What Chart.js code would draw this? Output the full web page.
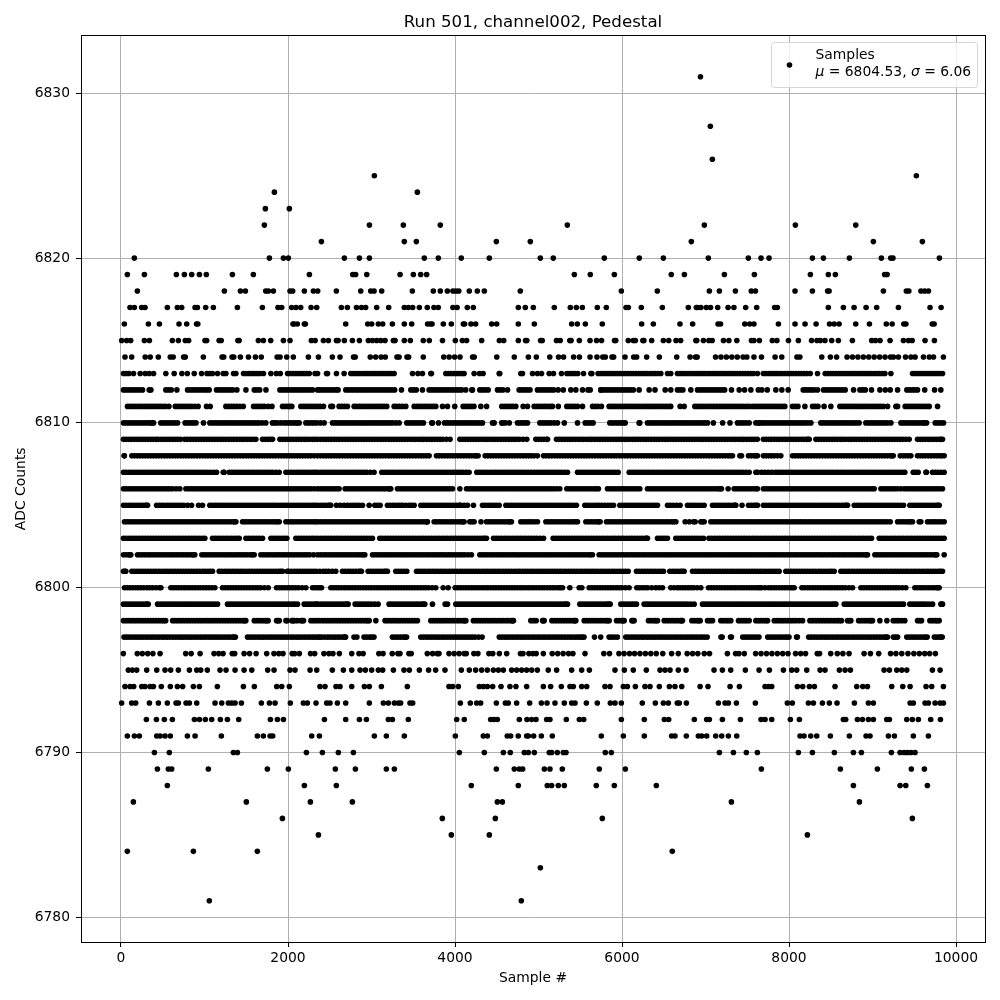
<!DOCTYPE html>
<html>
<head>
<meta charset="utf-8">
<script src="https://cdn.jsdelivr.net/npm/chart.js@4/dist/chart.umd.min.js"></script>
<style>
body { margin: 0; background: #fff; }
canvas { display: block; }
</style>
</head>
<body>
<canvas id="pedestalChart" width="1000" height="1000"></canvas>
<script>
// Sample numbers, one list per ADC level
const level6781 = [1058,4794];
const level6783 = [5022];
const level6784 = [76,867,1633,6602];
const level6785 = [2364,3956,4411,8220];
const level6786 = [1933,3848,4483,5764,9477];
const level6787 = [148,1501,2268,2771,4507,4567,7310,8843];
const level6788 = [555,2196,2579,4195,4758,5105,5157,5237,5309,5692,5908,6411,8771,9330,9398,9657];
const level6789 = [436,567,607,1046,1753,2004,2567,2807,3178,3274,4495,4710,4770,4810,5070,5137,5285,5728,6040,7669,8615,9058,9465,9621];
const level6790 = [400,579,1346,1394,2220,2412,2603,2783,4052,4351,4579,4662,4830,4878,4950,5129,5157,5225,5297,5329,5800,5872,7166,7334,7489,7621,8112,8280,8543,8771,8867,9226,9330,9378,9418,9461,9509];
const level6791 = [76,160,220,428,468,527,591,795,887,1202,1633,1705,1785,1817,2284,2376,3034,3178,3393,4004,4339,4387,4626,4666,4758,4858,4878,4942,5034,5165,5752,6016,6267,6594,6634,6770,6914,6954,7014,7122,7194,7274,7374,8132,8180,8260,8332,8495,8723,8923,8970,9190,9262,9489,9669];
const level6792 = [304,424,519,615,879,939,1010,1086,1190,1274,1410,1789,1873,1945,2436,2691,2855,2939,3202,3250,3441,4020,4111,4427,4467,4507,4770,4862,4918,4970,5098,5137,5333,5489,5541,5992,6267,6507,6559,6866,7014,7046,7202,7418,7665,7713,7793,8016,8124,8651,8679,8819,8879,8951,9010,9170,9202,9410,9477,9549,9697,9813];
const level6793 = [8,128,176,340,448,555,659,687,779,819,907,1126,1206,1286,1326,1366,1442,1681,1777,1845,2028,2184,2232,2336,2463,2503,2591,2691,2974,3142,3202,3274,3322,3349,3461,3493,4064,4183,4259,4307,4495,4603,4638,4738,4894,5034,5102,5197,5309,5397,5437,5573,5704,5860,5916,5992,6243,6399,6495,6555,6662,6686,6771,7154,7234,7274,7370,7597,7980,8040,8232,8292,8400,8483,8575,8783,8951,9010,9450,9489,9629,9669,9749,9809,9849];
const level6794 = [48,108,152,248,288,348,388,483,591,675,739,867,939,1154,1466,1597,1865,1925,2016,2383,2443,2575,2623,2763,2915,2974,3118,3429,3928,3972,4040,4291,4339,4387,4451,4551,4658,4730,4858,5058,5145,5273,5377,5417,5517,5577,5796,5856,6016,6064,6160,6275,6335,6447,6567,6634,6715,6935,7030,7294,7406,7713,7753,7793,8100,8164,8244,8304,8551,8811,8883,8939,9230,9362,9450,9641,9709,9849];
const level6795 = [88,136,188,308,428,527,595,687,819,907,955,1034,1186,1258,1366,1474,1566,1757,1833,2024,2084,2264,2344,2531,2663,2763,2863,2927,3002,3082,3134,3262,3389,3453,3573,3684,3768,3880,4076,4171,4247,4319,4387,4459,4519,4579,4678,4738,4798,4858,4918,4986,5117,5217,5397,5517,5609,5916,6028,6135,6291,6455,6515,6575,6674,6767,7102,7202,7302,7477,7641,7765,7933,8032,8092,8212,8372,8431,8603,8671,8735,9138,9202,9290,9350,9410,9717,9809];
const level6796 = [28,195,255,320,382,468,775,840,947,1114,1170,1222,1332,1362,1474,1540,1618,1745,1832,1890,1940,2050,2080,2136,2270,2320,2430,2490,2538,2615,2763,2850,2900,3088,3138,3248,3316,3341,3448,3476,3668,3732,3786,3808,3928,3990,4050,4110,4135,4226,4274,4406,4452,4531,4619,4784,4814,4885,4932,4972,5058,5164,5230,5295,5360,5412,5557,5782,5850,5963,6025,6090,6150,6215,6280,6345,6410,6488,6594,6674,6780,6845,6908,6985,7048,7262,7360,7400,7465,7600,7665,7730,7795,7860,7925,7988,8078,8140,8198,8338,8366,8499,8578,8645,8719,8899,8975,9074,9216,9280,9350,9424,9495,9560,9625,9684,9753];
const level6797 = [36,98,165,228,295,360,425,492,555,622,688,750,815,880,948,1012,1078,1140,1205,1270,1335,1370,1515,1580,1645,1708,1775,1840,1905,1968,2035,2100,2162,2228,2290,2350,2400,2470,2535,2600,2665,2690,2790,2825,2910,2975,3030,3250,3315,3380,3420,3590,3655,3720,3785,3850,3915,3982,4045,4110,4175,4240,4325,4530,4595,4660,4725,4790,4855,4920,4985,5050,5115,5180,5245,5310,5375,5440,5500,5545,5670,5745,5845,5910,5945,6045,6110,6175,6240,6305,6370,6435,6500,6565,6630,6695,6760,6825,6890,6955,7020,7185,7200,7300,7310,7445,7510,7575,7640,7745,7810,7875,7940,8000,8090,8100,8235,8300,8365,8430,8495,8560,8625,8690,8755,8820,8885,8950,9015,9080,9145,9180,9250,9300,9410,9475,9540,9605,9655,9740,9800,9835];
const level6798 = [30,95,160,225,290,355,420,485,535,618,680,745,810,875,940,1005,1070,1135,1200,1265,1330,1395,1460,1495,1596,1660,1725,1762,1863,1895,1975,2046,2074,2154,2186,2274,2340,2410,2475,2540,2605,2670,2735,2800,2865,2930,2972,3052,3162,3225,3290,3355,3420,3485,3550,3710,3775,3840,3905,3970,4035,4100,4130,4220,4285,4350,4415,4480,4545,4610,4675,4700,4908,4972,5048,5068,5160,5225,5290,5355,5420,5447,5547,5612,5677,5742,5807,5846,5934,5998,6026,6118,6145,6317,6382,6425,6505,6570,6635,6700,6724,6836,6900,6936,7024,7084,7183,7248,7303,7395,7460,7523,7603,7663,7723,7743,7823,7888,7953,8018,8083,8162,8250,8315,8380,8445,8510,8575,8629,8701,8741,8833,8898,8963,9000,9088,9172,9248,9312,9387,9539,9587,9687,9752,9798];
const level6799 = [30,95,160,225,290,326,438,503,568,633,698,763,828,893,958,1023,1088,1156,1276,1341,1406,1471,1536,1601,1666,1731,1796,1861,1926,1991,2056,2114,2194,2259,2324,2353,2423,2488,2553,2618,2683,2720,2804,2869,2934,2999,3079,3211,3276,3341,3406,3471,3536,3601,3638,3730,3882,3910,4010,4075,4140,4205,4270,4335,4400,4465,4530,4595,4660,4725,4790,4855,4920,4985,5050,5115,5180,5245,5310,5347,5495,5560,5625,5690,5755,5820,5858,5986,6051,6116,6173,6265,6330,6395,6460,6525,6590,6655,6720,6785,6864,6964,7029,7094,7159,7224,7289,7354,7419,7484,7549,7614,7679,7744,7809,7874,7939,8004,8069,8134,8199,8264,8329,8394,8459,8524,8561,8661,8726,8791,8856,8921,8986,9051,9116,9181,9246,9311,9371,9447,9512,9577,9642,9719,9819,9838];
const level6800 = [42,107,172,237,310,378,458,478,597,662,727,792,857,922,987,1052,1124,1216,1281,1346,1411,1476,1541,1606,1671,1763,1863,1928,1993,2058,2123,2214,2294,2353,2401,2513,2578,2643,2708,2773,2838,2903,2968,3033,3098,3163,3228,3293,3358,3423,3488,3553,3618,3683,3770,3858,3918,4002,4067,4132,4197,4262,4327,4392,4457,4522,4587,4652,4717,4782,4847,4912,4977,5042,5107,5172,5237,5287,5375,5487,5607,5672,5737,5802,5867,5932,5997,6085,6177,6242,6307,6405,6485,6584,6664,6729,6794,6859,6944,7036,7101,7166,7231,7296,7361,7426,7491,7556,7622,7671,7755,7820,7885,7950,8015,8062,8154,8219,8284,8349,8414,8479,8544,8609,8674,8761,8861,8926,8991,9056,9121,9186,9251,9316,9399,9507,9572,9637,9702,9767,9798];
const level6801 = [30,58,130,195,260,325,390,455,520,585,650,715,780,845,910,975,1040,1096,1176,1241,1306,1371,1436,1501,1566,1631,1696,1761,1826,1891,1935,2007,2078,2143,2208,2273,2338,2423,2488,2572,2652,2717,2782,2847,2880,2960,3025,3090,3155,3191,3291,3356,3423,3539,3604,3669,3734,3799,3864,3929,3994,4059,4124,4189,4254,4319,4384,4449,4514,4579,4644,4709,4774,4839,4904,4969,5034,5099,5164,5229,5294,5359,5424,5489,5554,5619,5684,5749,5814,5879,5944,6009,6074,6173,6238,6303,6368,6433,6497,6573,6638,6703,6744,6844,6909,6974,7039,7104,7169,7234,7299,7364,7429,7494,7559,7624,7689,7754,7819,7882,7962,8027,8092,8157,8222,8287,8352,8417,8482,8541,8621,8686,8751,8816,8881,8946,9011,9076,9141,9206,9271,9336,9401,9466,9531,9596,9661,9726,9791,9838];
const level6802 = [30,95,118,198,263,328,393,458,523,588,653,718,783,848,884,968,1033,1098,1163,1228,1293,1358,1423,1488,1553,1595,1675,1740,1805,1870,1935,2000,2065,2130,2195,2260,2353,2423,2488,2553,2618,2683,2748,2813,2878,2920,3012,3077,3142,3207,3272,3337,3402,3467,3532,3597,3662,3727,3792,3857,3922,3987,4052,4117,4197,4297,4362,4427,4492,4557,4622,4687,4752,4817,4882,4947,5012,5077,5142,5207,5272,5337,5402,5467,5532,5597,5646,5726,5791,5856,5921,5986,6051,6116,6181,6246,6311,6376,6441,6506,6571,6636,6701,6766,6831,6896,6961,7026,7091,7156,7221,7286,7351,7416,7481,7546,7611,7676,7741,7806,7871,7936,8001,8066,8131,8196,8261,8326,8391,8456,8521,8586,8651,8716,8781,8846,8911,8940,9028,9093,9158,9223,9288,9353,9418,9483,9548,9613,9678,9743,9770,9858];
const level6803 = [30,95,160,225,290,355,420,485,550,615,680,745,810,875,940,1004,1096,1161,1226,1291,1356,1416,1496,1561,1626,1695,1795,1860,1925,1986,2094,2159,2224,2289,2353,2423,2488,2553,2618,2683,2748,2813,2878,2943,3011,3099,3164,3229,3294,3359,3424,3489,3554,3619,3684,3749,3814,3879,3944,4009,4074,4139,4204,4269,4334,4377,4461,4526,4591,4656,4721,4786,4851,4916,4981,5060,5175,5240,5305,5370,5435,5500,5565,5630,5695,5760,5825,5890,5955,6020,6085,6150,6215,6280,6305,6425,6485,6544,6644,6709,6774,6839,6904,6976,7041,7106,7171,7236,7301,7366,7431,7496,7561,7626,7691,7756,7821,7886,7951,8016,8081,8146,8211,8276,8341,8406,8471,8536,8601,8666,8731,8796,8861,8926,8988,9080,9145,9210,9275,9340,9405,9470,9535,9600,9665,9730,9795,9858];
const level6804 = [42,107,172,237,302,367,432,497,562,627,692,757,822,887,952,1017,1082,1147,1212,1277,1342,1376,1456,1521,1586,1651,1716,1781,1846,1895,1975,2040,2105,2170,2235,2300,2353,2423,2488,2553,2618,2683,2748,2813,2878,2943,3008,3073,3138,3203,3268,3333,3398,3463,3528,3593,3658,3670,3750,3815,3880,3945,4010,4075,4109,4177,4229,4311,4377,4442,4507,4572,4637,4676,4788,4853,4916,4988,5088,5153,5218,5283,5348,5413,5467,5567,5632,5697,5738,5814,5879,5944,6009,6074,6139,6204,6269,6334,6399,6464,6529,6594,6645,6756,6856,6944,6984,7064,7129,7194,7259,7324,7389,7454,7519,7584,7649,7714,7779,7844,7909,7974,8039,8104,8169,8234,8299,8364,8429,8494,8559,8624,8689,8754,8819,8884,8949,9014,9079,9144,9212,9300,9365,9430,9479,9559,9579,9659,9724,9789,9858];
const level6805 = [30,95,160,225,290,318,426,491,556,621,686,751,845,929,976,1064,1129,1194,1259,1324,1389,1454,1519,1584,1649,1714,1779,1844,1909,1974,2039,2104,2169,2234,2299,2353,2423,2488,2512,2580,2672,2752,2817,2892,2972,3039,3103,3191,3256,3321,3371,3451,3511,3591,3656,3721,3786,3851,3916,3981,4046,4070,4150,4221,4329,4394,4459,4529,4609,4674,4739,4804,4869,4934,4999,5064,5129,5194,5259,5324,5389,5454,5555,5621,5694,5754,5830,5898,5974,6039,6104,6169,6234,6299,6364,6425,6545,6610,6696,6784,6849,6914,6984,7084,7149,7214,7279,7344,7363,7437,7515,7580,7622,7693,7758,7823,7888,7953,8018,8083,8148,8213,8278,8343,8408,8473,8538,8603,8668,8701,8781,8846,8911,8976,9041,9106,9171,9236,9301,9371,9447,9512,9577,9642,9707,9772,9798];
const level6806 = [30,95,160,225,290,355,420,485,550,615,705,777,842,907,972,1037,1102,1167,1232,1297,1362,1427,1492,1557,1622,1687,1752,1817,1882,1947,2012,2077,2142,2207,2274,2354,2421,2486,2551,2612,2684,2749,2814,2879,2944,3009,3074,3139,3204,3231,3311,3376,3441,3506,3571,3636,3701,3766,3831,3896,3970,4058,4138,4203,4268,4333,4398,4463,4528,4593,4658,4723,4788,4853,4918,4983,5048,5113,5178,5255,5339,5404,5469,5534,5599,5664,5718,5826,5891,5956,6021,6086,6151,6213,6305,6370,6435,6500,6565,6630,6695,6760,6825,6890,6955,7020,7085,7150,7191,7271,7343,7408,7473,7538,7603,7622,7693,7758,7823,7888,7953,8018,8083,8148,8213,8278,8343,8408,8473,8538,8603,8668,8733,8798,8863,8928,8993,9020,9100,9165,9230,9295,9379,9447,9512,9577,9642,9707,9772,9838];
const level6807 = [30,95,160,225,290,355,420,485,550,615,680,745,810,875,940,1005,1070,1144,1224,1236,1296,1361,1426,1491,1556,1621,1686,1751,1816,1895,1975,2040,2105,2170,2235,2300,2353,2423,2488,2553,2618,2683,2748,2813,2878,2943,3031,3123,3188,3253,3318,3383,3448,3513,3578,3643,3708,3773,3838,3903,3968,4033,4098,4169,4261,4326,4391,4456,4521,4586,4651,4716,4781,4846,4911,4948,5013,5078,5143,5208,5273,5347,5467,5532,5597,5662,5727,5792,5857,5922,5954,6086,6151,6216,6281,6346,6411,6476,6541,6606,6671,6736,6801,6866,6931,6996,7061,7126,7191,7256,7321,7386,7451,7523,7603,7622,7668,7750,7834,7899,7964,8029,8094,8159,8224,8289,8354,8419,8484,8549,8614,8679,8744,8809,8874,8939,9004,9069,9134,9199,9264,9329,9387,9487,9547,9639,9647,9719,9784,9858];
const level6808 = [38,40,130,195,260,325,390,455,520,585,650,715,780,845,910,975,1040,1105,1170,1235,1300,1365,1430,1495,1560,1625,1690,1755,1820,1885,1950,2015,2080,2145,2210,2275,2353,2423,2488,2553,2618,2683,2748,2813,2878,2943,3008,3073,3138,3203,3268,3333,3398,3463,3528,3593,3658,3690,3778,3843,3908,3973,4038,4103,4168,4233,4277,4361,4426,4491,4556,4621,4686,4751,4816,4881,4946,4987,5060,5125,5190,5255,5320,5385,5450,5515,5580,5645,5710,5775,5840,5905,5970,6035,6100,6165,6230,6295,6360,6425,6490,6555,6620,6685,6750,6815,6880,6945,7010,7075,7140,7205,7270,7323,7411,7431,7515,7580,7622,7693,7758,7823,7902,8042,8107,8172,8237,8302,8367,8432,8497,8562,8627,8692,8757,8822,8887,8952,9017,9082,9147,9212,9248,9332,9397,9459,9539,9604,9669,9734,9799,9858];
const level6809 = [30,95,160,225,290,355,420,445,517,582,647,712,797,865,930,995,1060,1125,1190,1255,1320,1385,1450,1515,1580,1615,1695,1760,1815,1903,1968,2033,2098,2163,2228,2293,2353,2423,2488,2553,2618,2683,2748,2813,2878,2943,3008,3073,3138,3203,3268,3333,3398,3463,3528,3593,3658,3723,3788,3853,3941,4058,4123,4188,4253,4318,4383,4448,4513,4578,4643,4708,4773,4860,4968,5033,5098,5108,5215,5280,5345,5410,5475,5540,5605,5670,5735,5800,5865,5930,5995,6060,6125,6190,6255,6320,6385,6450,6515,6580,6645,6710,6775,6840,6905,6970,7035,7100,7165,7230,7295,7360,7425,7490,7555,7620,7693,7758,7823,7888,7953,8018,8083,8148,8213,8242,8322,8387,8452,8517,8582,8647,8712,8777,8842,8907,8972,9037,9102,9167,9232,9297,9362,9439,9539,9604,9669,9734,9799,9838];
const level6810 = [30,95,160,225,290,355,390,477,542,607,677,768,833,898,988,1064,1129,1194,1259,1324,1389,1454,1519,1584,1649,1734,1814,1874,1954,2019,2084,2134,2214,2279,2344,2433,2533,2598,2663,2728,2793,2858,2923,2988,3053,3118,3183,3248,3331,3423,3488,3553,3622,3722,3730,3802,3874,3939,4004,4069,4134,4199,4264,4329,4449,4469,4560,4568,4650,4748,4813,4868,5016,5081,5146,5227,5309,5467,5559,5624,5654,5854,5919,5984,6038,6213,6205,6305,6370,6435,6500,6565,6630,6695,6760,6825,6890,6955,7024,7094,7205,7293,7383,7448,7523,7643,7603,7668,7733,7798,7863,7928,7993,8058,8123,8188,8262,8381,8446,8511,8576,8641,8706,8771,8840,8920,8985,9050,9115,9180,9220,9340,9405,9470,9535,9600,9647,9751,9818,9850];
const level6811 = [78,143,208,273,338,403,468,533,574,650,715,780,845,924,1024,1068,1256,1321,1386,1464,1588,1653,1718,1808,1934,1999,2046,2154,2219,2284,2349,2425,2513,2533,2612,2677,2712,2792,2857,2922,2987,3052,3117,3183,3271,3336,3411,3511,3576,3641,3706,3770,3850,3910,3997,4097,4162,4227,4309,4378,4560,4625,4690,4728,4816,4868,4948,5013,5078,5143,5167,5237,5339,5404,5469,5527,5647,5712,5754,5846,5911,5976,6041,6106,6171,6236,6301,6366,6431,6496,6561,6584,6696,6744,6872,6937,7002,7067,7132,7197,7262,7327,7392,7457,7522,7563,7628,7693,7758,7823,7888,7950,8042,8107,8190,8282,8347,8420,8501,8609,8674,8739,8804,8869,8934,8999,9064,9129,9180,9280,9300,9391,9456,9521,9586,9651,9679,9779];
const level6812 = [30,95,160,225,258,338,358,537,602,669,797,862,927,992,1056,1144,1209,1274,1339,1388,1496,1596,1661,1736,1903,1968,2033,2098,2163,2228,2293,2353,2381,2446,2511,2576,2600,2692,2757,2822,2887,2952,3017,3082,3147,3212,3277,3359,3471,3536,3610,3690,3755,3820,3885,3950,4015,4080,4129,4201,4209,4297,4362,4397,4509,4574,4629,4768,4833,4898,4987,5052,5117,5182,5235,5297,5387,5447,5527,5592,5619,5746,5811,5876,5941,6006,6071,6136,6205,6325,6395,6517,6584,6664,6729,6824,6904,6969,7034,7099,7164,7229,7311,7403,7468,7543,7632,7675,7740,7842,7914,7990,8170,8235,8300,8341,8413,8478,8543,8608,8673,8773,8849,8914,8988,9088,9153,9212,9300,9411,9476,9539,9625,9743,9818];
const level6813 = [30,95,150,230,290,338,390,537,637,729,794,877,965,1030,1095,1156,1224,1256,1348,1376,1468,1533,1598,1663,1706,1795,1860,1907,1995,2060,2125,2190,2255,2324,2354,2461,2473,2580,2672,2752,2817,2882,2947,3012,3077,3142,3207,3271,3491,3556,3610,3710,3718,3890,3955,4020,4085,4109,4229,4294,4337,4529,4536,4788,4808,4928,4987,5036,5128,5179,5275,5340,5405,5470,5539,5639,5627,5714,5779,5844,5909,5974,6039,6104,6169,6234,6299,6364,6429,6465,6545,6584,6664,6729,6794,6859,6924,6989,7054,7119,7184,7249,7314,7379,7444,7509,7574,7622,7693,7758,7823,7888,7953,8018,8083,8148,8213,8254,8341,8433,8498,8563,8628,8693,8758,8823,8888,8953,9018,9083,9148,9220,9479,9544,9609,9674,9739,9804,9838];
const level6814 = [48,128,290,350,447,590,625,750,770,986,1210,1230,1330,1350,1430,1526,1610,1680,1870,1905,1985,2064,2244,2364,2531,2623,2785,2805,2985,3050,3115,3165,3305,3330,3425,3445,3620,3865,3930,3995,4060,4210,4230,4500,4710,4878,4974,5135,5240,5300,5420,5490,5617,5700,5770,5800,5880,5900,6036,6140,6175,6295,6447,6655,6815,6880,6900,7120,7185,7250,7315,7380,7450,7495,7580,7670,7833,7913,8095,8130,8392,8495,8570,8695,8760,8825,8890,8955,9020,9085,9150,9215,9250,9310,9395,9460,9510,9610,9680,9730,9849];
const level6815 = [8,68,116,280,340,615,687,770,810,1006,1026,1175,1200,1400,1415,1645,1705,1793,1945,2024,2280,2325,2424,2484,2580,2600,2675,2771,2855,2962,3010,3062,3110,3162,3262,3282,3393,3465,3620,3692,3850,4004,4088,4139,4319,4531,4583,4758,4845,4860,5025,5045,5215,5260,5375,5390,5489,5617,5695,5755,5910,5925,6075,6135,6160,6250,6262,6355,6495,6560,6647,6702,6884,6895,6975,7040,7080,7215,7280,7375,7550,7580,7645,7800,7855,7993,8112,8270,8335,8375,8431,8511,8591,8759,8990,9035,9090,9210,9370,9430,9475,9629,9741];
const level6816 = [40,328,460,695,787,905,920,2060,2072,2112,2196,2208,2691,2955,3002,3082,3134,3250,3393,3481,3672,3705,3725,3860,3956,4100,4115,4191,4247,4439,4499,4758,4950,5397,5465,5561,5764,6235,6375,6694,6846,7150,7180,7470,7530,7580,7873,8072,8192,8324,8485,8540,8600,8799,8963,9165,9235,9375,9400,9715,9738];
const level6817 = [108,160,248,288,555,675,727,887,915,1014,1106,1394,1693,1880,1925,2044,2096,2152,2276,2344,2639,2711,2820,2880,2930,3062,3206,3393,3441,3493,3573,3668,3748,3800,3975,4025,4147,4219,4758,4842,4938,5189,5381,5453,5525,5704,5812,6048,6076,6231,6483,6794,6890,6905,6945,7010,7060,7146,7270,7340,7481,7613,7828,7860,8471,8651,8779,8923,9050,9310,9689,9821];
const level6818 = [196,1238,1430,1490,1733,1765,1825,2024,2056,2196,2304,2356,2579,2871,2991,3031,3122,3489,3740,3824,3908,3975,4010,4045,4171,4267,4351,4782,5992,6423,7046,7166,7358,7548,7598,8072,8280,8462,8480,9130,9405,9435,9580,9625,9670];
const level6819 = [76,280,663,759,847,939,1022,1334,1585,2256,2775,2810,2943,3342,3501,3589,3660,5429,5620,5908,6590,6747,7226,7585,8256,8471,8555,9145,9175];
const level6820 = [160,1777,1945,2004,2675,2855,2975,3632,3800,4075,4411,5022,5177,5788,6207,6495,7034,7513,7665,7761,8280,8412,8723,9106,9218,9245,9801];
const level6821 = [2400,3393,3537,4495,4902,6830,9010,9597];
const level6822 = [1717,2975,3381,3824,5345,6986,8076,8799];
const level6823 = [1729,2016];
const level6824 = [1837,3549];
const level6825 = [3034,9525];
const level6826 = [7082];
const level6828 = [7058];
const level6831 = [6939];

// More samples inside the solid stretches of the crowded levels
const more6797 = [67,131,196,261,327,392,458,523,588,655,719,782,847,914,980,1045,1109,1172,1237,1302,1352,1547,1612,1676,1741,1807,1872,1936,2001,2067,2131,2195,2259,2320,2375,2435,2502,2567,2632,2678,2942,3002,3282,3347,3400,3622,3687,3752,3817,3882,3948,4013,4077,4142,4207,4282,4562,4627,4692,4757,4822,4887,4952,5017,5082,5147,5212,5277,5342,5407,5470,5522,5877,6077,6142,6207,6272,6337,6402,6467,6532,6597,6662,6727,6792,6857,6922,6987,7477,7542,7607,7777,7842,7907,7970,8267,8332,8397,8462,8527,8592,8657,8722,8787,8852,8917,8982,9047,9112,9162,9275,9442,9507,9572,9630,9770,9817];
const more6798 = [62,127,192,257,322,387,452,510,649,712,777,842,907,972,1037,1102,1167,1232,1297,1362,1427,1477,1628,1692,1743,1879,1990,2060,2110,2170,2307,2375,2442,2507,2572,2637,2702,2767,2832,2897,2951,3192,3257,3322,3387,3452,3517,3742,3807,3872,3937,4002,4067,4115,4252,4317,4382,4447,4512,4577,4642,4688,4940,5058,5192,5257,5322,5387,5433,5579,5644,5709,5774,5826,5966,6012,6132,6349,6403,6537,6602,6667,6712,6868,6918,7054,7215,7275,7427,7491,7633,7693,7855,7920,7985,8050,8122,8282,8347,8412,8477,8542,8602,8721,8865,8930,8981,9280,9349,9563,9720,9775];
const more6799 = [62,127,192,257,308,470,535,600,665,730,795,860,925,990,1055,1122,1308,1373,1438,1503,1568,1633,1698,1763,1828,1893,1958,2023,2085,2226,2291,2338,2388,2455,2520,2585,2650,2701,2836,2901,2966,3039,3243,3308,3373,3438,3503,3568,3620,4042,4107,4172,4237,4302,4367,4432,4497,4562,4627,4692,4757,4822,4887,4952,5017,5082,5147,5212,5277,5328,5527,5592,5657,5722,5787,5839,6018,6083,6144,6297,6362,6427,6492,6557,6622,6687,6752,6824,6996,7061,7126,7191,7256,7321,7386,7451,7516,7581,7646,7711,7776,7841,7906,7971,8036,8101,8166,8231,8296,8361,8426,8491,8542,8693,8758,8823,8888,8953,9018,9083,9148,9213,9278,9341,9479,9544,9609,9680,9828];
const more6800 = [74,139,204,272,344,418,629,694,759,824,889,954,1019,1088,1248,1313,1378,1443,1508,1573,1638,1717,1895,1960,2025,2090,2168,2323,2377,2545,2610,2675,2740,2805,2870,2935,3000,3065,3130,3195,3260,3325,3390,3455,3520,3585,3650,3726,4034,4099,4164,4229,4294,4359,4424,4489,4554,4619,4684,4749,4814,4879,4944,5009,5074,5139,5204,5262,5519,5639,5704,5769,5834,5899,5964,6041,6209,6274,6356,6445,6624,6696,6761,6826,6900,7068,7133,7198,7263,7328,7393,7458,7523,7589,7646,7713,7787,7852,7917,7982,8038,8186,8251,8316,8381,8446,8511,8576,8641,8717,8893,8958,9023,9088,9153,9218,9283,9357,9539,9604,9669,9734,9782];
const more6801 = [44,162,227,292,357,422,487,552,617,682,747,812,877,942,1007,1068,1208,1273,1338,1403,1468,1533,1598,1663,1728,1793,1858,1913,1992,2042,2110,2175,2240,2305,2380,2455,2530,2684,2749,2814,2864,2992,3057,3122,3173,3323,3389,3571,3636,3701,3766,3831,3896,3961,4026,4091,4156,4221,4286,4351,4416,4481,4546,4611,4676,4741,4806,4871,4936,5001,5066,5131,5196,5261,5326,5391,5456,5521,5586,5651,5716,5781,5846,5911,5976,6041,6205,6270,6335,6400,6465,6605,6670,6724,6876,6941,7006,7071,7136,7201,7266,7331,7396,7461,7526,7591,7656,7721,7786,7850,7994,8059,8124,8189,8254,8319,8384,8449,8511,8653,8718,8783,8848,8913,8978,9043,9108,9173,9238,9303,9368,9433,9498,9563,9628,9693,9758,9815];
const more6802 = [62,106,230,295,360,425,490,555,620,685,750,815,866,1000,1065,1130,1195,1260,1325,1390,1455,1520,1574,1707,1772,1837,1902,1967,2032,2097,2162,2227,2306,2388,2455,2520,2585,2650,2715,2780,2845,2899,3044,3109,3174,3239,3304,3369,3434,3499,3564,3629,3694,3759,3824,3889,3954,4019,4084,4157,4329,4394,4459,4524,4589,4654,4719,4784,4849,4914,4979,5044,5109,5174,5239,5304,5369,5434,5499,5564,5621,5758,5823,5888,5953,6018,6083,6148,6213,6278,6343,6408,6473,6538,6603,6668,6733,6798,6863,6928,6993,7058,7123,7188,7253,7318,7383,7448,7513,7578,7643,7708,7773,7838,7903,7968,8033,8098,8163,8228,8293,8358,8423,8488,8553,8618,8683,8748,8813,8878,8925,9060,9125,9190,9255,9320,9385,9450,9515,9580,9645,9710,9756];
const more6803 = [62,127,192,257,322,387,452,517,582,647,712,777,842,907,972,1128,1193,1258,1323,1386,1528,1593,1660,1827,1892,1955,2126,2191,2256,2321,2388,2455,2520,2585,2650,2715,2780,2845,2910,2977,3131,3196,3261,3326,3391,3456,3521,3586,3651,3716,3781,3846,3911,3976,4041,4106,4171,4236,4301,4355,4493,4558,4623,4688,4753,4818,4883,4948,5020,5207,5272,5337,5402,5467,5532,5597,5662,5727,5792,5857,5922,5987,6052,6117,6182,6247,6292,6455,6514,6676,6741,6806,6871,6940,7073,7138,7203,7268,7333,7398,7463,7528,7593,7658,7723,7788,7853,7918,7983,8048,8113,8178,8243,8308,8373,8438,8503,8568,8633,8698,8763,8828,8893,8957,9112,9177,9242,9307,9372,9437,9502,9567,9632,9697,9762,9826];
const more6804 = [74,139,204,269,334,399,464,529,594,659,724,789,854,919,984,1049,1114,1179,1244,1309,1359,1488,1553,1618,1683,1748,1813,1870,2007,2072,2137,2202,2267,2326,2388,2455,2520,2585,2650,2715,2780,2845,2910,2975,3040,3105,3170,3235,3300,3365,3430,3495,3560,3625,3664,3782,3847,3912,3977,4042,4092,4203,4409,4474,4539,4604,4656,4820,4884,4952,5120,5185,5250,5315,5380,5440,5599,5664,5717,5846,5911,5976,6041,6106,6171,6236,6301,6366,6431,6496,6561,6619,6806,6876,6964,7096,7161,7226,7291,7356,7421,7486,7551,7616,7681,7746,7811,7876,7941,8006,8071,8136,8201,8266,8331,8396,8461,8526,8591,8656,8721,8786,8851,8916,8981,9046,9111,9178,9332,9397,9454,9691,9756,9823];
const more6805 = [62,127,192,257,304,458,523,588,653,718,798,1096,1161,1226,1291,1356,1421,1486,1551,1616,1681,1746,1811,1876,1941,2006,2071,2136,2201,2266,2326,2388,2455,2500,2626,2712,2784,2854,3071,3223,3288,3346,3411,3481,3623,3688,3753,3818,3883,3948,4013,4058,4110,4361,4426,4494,4641,4706,4771,4836,4901,4966,5031,5096,5161,5226,5291,5356,5421,5588,5657,5724,5792,5864,6006,6071,6136,6201,6266,6331,6394,6577,6653,6816,6881,6949,7116,7181,7246,7311,7353,7548,7601,7725,7790,7855,7920,7985,8050,8115,8180,8245,8310,8375,8440,8505,8570,8635,8684,8813,8878,8943,9008,9073,9138,9203,9268,9336,9479,9544,9609,9674,9739,9785];
const more6806 = [62,127,192,257,322,387,452,517,582,660,809,874,939,1004,1069,1134,1199,1264,1329,1394,1459,1524,1589,1654,1719,1784,1849,1914,1979,2044,2109,2174,2240,2314,2388,2453,2518,2581,2716,2781,2846,2911,2976,3041,3106,3171,3218,3343,3408,3473,3538,3603,3668,3733,3798,3863,3933,4170,4235,4300,4365,4430,4495,4560,4625,4690,4755,4820,4885,4950,5015,5080,5145,5216,5371,5436,5501,5566,5631,5691,5858,5923,5988,6053,6118,6182,6337,6402,6467,6532,6597,6662,6727,6792,6857,6922,6987,7052,7117,7170,7375,7440,7505,7570,7725,7790,7855,7920,7985,8050,8115,8180,8245,8310,8375,8440,8505,8570,8635,8700,8765,8830,8895,8960,9132,9197,9262,9337,9413,9479,9544,9609,9674,9739,9805];
const more6807 = [62,127,192,257,322,387,452,517,582,647,712,777,842,907,972,1037,1107,1328,1393,1458,1523,1588,1653,1718,1783,1855,2007,2072,2137,2202,2267,2326,2388,2455,2520,2585,2650,2715,2780,2845,2910,2987,3155,3220,3285,3350,3415,3480,3545,3610,3675,3740,3805,3870,3935,4000,4065,4134,4293,4358,4423,4488,4553,4618,4683,4748,4813,4878,4980,5045,5110,5175,5240,5310,5499,5564,5629,5694,5759,5824,5889,6118,6183,6248,6313,6378,6443,6508,6573,6638,6703,6768,6833,6898,6963,7028,7093,7158,7223,7288,7353,7418,7487,7709,7792,7866,7931,7996,8061,8126,8191,8256,8321,8386,8451,8516,8581,8646,8711,8776,8841,8906,8971,9036,9101,9166,9231,9296,9358,9517,9752,9821];
const more6808 = [162,227,292,357,422,487,552,617,682,747,812,877,942,1007,1072,1137,1202,1267,1332,1397,1462,1527,1592,1657,1722,1787,1852,1917,1982,2047,2112,2177,2242,2314,2388,2455,2520,2585,2650,2715,2780,2845,2910,2975,3040,3105,3170,3235,3300,3365,3430,3495,3560,3625,3810,3875,3940,4005,4070,4135,4200,4255,4393,4458,4523,4588,4653,4718,4783,4848,4913,5092,5157,5222,5287,5352,5417,5482,5547,5612,5677,5742,5807,5872,5937,6002,6067,6132,6197,6262,6327,6392,6457,6522,6587,6652,6717,6782,6847,6912,6977,7042,7107,7172,7237,7296,7547,7601,7725,7790,7862,8074,8139,8204,8269,8334,8399,8464,8529,8594,8659,8724,8789,8854,8919,8984,9049,9114,9179,9230,9364,9428,9571,9636,9701,9766,9828];
const more6809 = [62,127,192,257,322,387,480,549,614,679,762,831,897,962,1027,1092,1157,1222,1287,1352,1417,1482,1547,1727,1787,1935,2000,2065,2130,2195,2260,2323,2388,2455,2520,2585,2650,2715,2780,2845,2910,2975,3040,3105,3170,3235,3300,3365,3430,3495,3560,3625,3690,3755,3820,3897,4090,4155,4220,4285,4350,4415,4480,4545,4610,4675,4740,4816,5000,5065,5247,5312,5377,5442,5507,5572,5637,5702,5767,5832,5897,5962,6027,6092,6157,6222,6287,6352,6417,6482,6547,6612,6677,6742,6807,6872,6937,7002,7067,7132,7197,7262,7327,7392,7457,7522,7587,7725,7790,7855,7920,7985,8050,8115,8180,8227,8354,8419,8484,8549,8614,8679,8744,8809,8874,8939,9004,9069,9134,9199,9264,9329,9400,9571,9636,9701,9766,9818];
const more6810 = [62,127,192,257,322,372,509,574,642,800,865,1096,1161,1226,1291,1356,1421,1486,1551,1616,1690,1844,1914,1986,2051,2109,2246,2311,2388,2565,2630,2695,2760,2825,2890,2955,3020,3085,3150,3215,3289,3455,3520,3587,3906,3971,4036,4101,4166,4231,4296,4601,4780,4840,5048,5113,5186,5591,5886,5951,6011,6337,6402,6467,6532,6597,6662,6727,6792,6857,6922,6989,7415,7485,7635,7700,7765,7830,7895,7960,8025,8090,8155,8225,8413,8478,8543,8608,8673,8738,8805,8952,9017,9082,9147,9372,9437,9502,9567,9623,9784];
const more6811 = [110,175,240,305,370,435,500,682,747,812,884,1288,1353,1425,1620,1685,1763,1966,2022,2186,2251,2316,2385,2645,2824,2889,2954,3019,3084,3150,3303,3373,3543,3608,3673,3738,4129,4194,4592,4657,4980,5045,5110,5371,5436,5679,5878,5943,6008,6073,6138,6203,6268,6333,6398,6463,6528,6904,6969,7034,7099,7164,7229,7294,7359,7424,7489,7595,7660,7725,7790,7855,7919,8075,8314,8641,8706,8771,8836,8901,8966,9031,9096,9423,9488,9553,9618];
const more6812 = [62,127,192,570,829,894,959,1024,1176,1241,1306,1628,1935,2000,2065,2130,2195,2260,2413,2478,2543,2724,2789,2854,2919,2984,3049,3114,3179,3244,3503,3722,3787,3852,3917,3982,4047,4329,4541,4800,4865,5019,5084,5149,5746,5778,5843,5908,5973,6038,6103,6696,6936,7001,7066,7131,7196,8202,8267,8445,8510,8575,8640,8881,9443,9508];
const more6813 = [62,1062,1500,1565,1630,2027,2092,2157,2222,2784,2849,2914,2979,3044,3109,3174,3239,3922,3987,4052,5372,5437,5746,5811,5876,5941,6006,6071,6136,6201,6266,6331,6396,6696,6761,6826,6891,6956,7021,7086,7151,7216,7281,7346,7411,7476,7541,7725,7790,7855,7920,7985,8050,8115,8180,8465,8530,8595,8660,8725,8790,8855,8920,8985,9050,9115,9511,9576,9641,9706,9771];

const adcLevels = [6781,6783,6784,6785,6786,6787,6788,6789,6790,6791,6792,6793,6794,6795,6796,6797,6798,6799,6800,6801,6802,6803,6804,6805,6806,6807,6808,6809,6810,6811,6812,6813,6814,6815,6816,6817,6818,6819,6820,6821,6822,6823,6824,6825,6826,6828,6831,
    6797,6798,6799,6800,6801,6802,6803,6804,6805,6806,6807,6808,6809,6810,6811,6812,6813];
const levelSamples = [level6781,level6783,level6784,level6785,level6786,level6787,level6788,level6789,level6790,level6791,level6792,level6793,level6794,level6795,level6796,level6797,level6798,level6799,level6800,level6801,level6802,level6803,level6804,level6805,level6806,level6807,level6808,level6809,level6810,level6811,level6812,level6813,level6814,level6815,level6816,level6817,level6818,level6819,level6820,level6821,level6822,level6823,level6824,level6825,level6826,level6828,level6831,
    more6797,more6798,more6799,more6800,more6801,more6802,more6803,more6804,more6805,more6806,more6807,more6808,more6809,more6810,more6811,more6812,more6813];

const xTicks = [0,2000,4000,6000,8000,10000];
const yTicks = [6780,6790,6800,6810,6820,6830];
const chartTitle = 'Run 501, channel002, Pedestal';
const seriesName = 'Samples';
const meanText = '6804.53';
const sigmaText = '6.06';

const fontFamily = '"DejaVu Sans"';

// Build the point list from the level lists
const points = [];
adcLevels.forEach((level, i) => {
    levelSamples[i].forEach(sample => {
        points.push({ x: sample, y: level });
    });
});

// Title, frame and legend are drawn by hand to get the matplotlib look
const decorPlugin = {
    id: 'decor',
    afterDraw(chart) {
        const ctx = chart.ctx;
        const area = chart.chartArea;
        ctx.save();

        // axes frame
        ctx.strokeStyle = '#000';
        ctx.lineWidth = 1;
        ctx.strokeRect(81.5, 35.5, 904, 907);

        // title
        ctx.fillStyle = '#000';
        ctx.font = '16.67px ' + fontFamily;
        ctx.textAlign = 'center';
        ctx.textBaseline = 'alphabetic';
        ctx.fillText(chartTitle, (area.left + area.right) / 2, 27);

        // legend box
        ctx.beginPath();
        ctx.roundRect(771.5, 42.5, 206, 45, 3);
        ctx.fillStyle = 'rgba(255,255,255,0.8)';
        ctx.fill();
        ctx.strokeStyle = '#d6d6d6';
        ctx.stroke();

        // legend marker
        ctx.beginPath();
        ctx.arc(789.5, 65, 2.8, 0, Math.PI * 2);
        ctx.fillStyle = '#000';
        ctx.fill();

        // legend text
        ctx.textAlign = 'left';
        ctx.font = '13.89px ' + fontFamily;
        ctx.fillText(seriesName, 815.5, 59);
        let x = 815.5;
        const parts = [
            ['\u03bc', true], [' = ' + meanText + ', ', false],
            ['\u03c3', true], [' = ' + sigmaText, false]
        ];
        parts.forEach(part => {
            ctx.font = (part[1] ? 'italic ' : '') + '13.89px ' + fontFamily;
            ctx.fillText(part[0], x, 76);
            x += ctx.measureText(part[0]).width;
        });
        ctx.restore();
    }
};

new Chart(document.getElementById('pedestalChart'), {
    type: 'scatter',
    data: {
        datasets: [{
            label: seriesName,
            data: points,
            backgroundColor: '#000',
            borderWidth: 0,
            pointRadius: 2.8,
            pointHoverRadius: 2.8
        }]
    },
    options: {
        responsive: false,
        animation: false,
        devicePixelRatio: 1,
        parsing: false,
        layout: { padding: { top: 35.6, right: 15, bottom: 0, left: 0 } },
        plugins: {
            legend: { display: false },
            title: { display: false },
            tooltip: { enabled: false }
        },
        scales: {
            x: {
                type: 'linear',
                min: -479,
                max: 10347,
                afterBuildTicks(scale) {
                    scale.ticks = xTicks.map(v => ({ value: v }));
                },
                afterFit(scale) {
                    scale.height = 58;
                },
                grid: { color: '#b0b0b0', lineWidth: 1, tickColor: '#000', tickLength: 5 },
                border: { color: '#000' },
                ticks: {
                    color: '#000',
                    maxRotation: 0,
                    padding: 3,
                    font: { family: fontFamily, size: 13.89 },
                    callback: v => String(v)
                },
                title: {
                    display: true,
                    text: 'Sample #',
                    color: '#000',
                    padding: { top: 2, bottom: 13 },
                    font: { family: fontFamily, size: 13.89 }
                }
            },
            y: {
                type: 'linear',
                min: 6778.5,
                max: 6833.5,
                afterBuildTicks(scale) {
                    scale.ticks = yTicks.map(v => ({ value: v }));
                },
                afterFit(scale) {
                    scale.width = 81;
                },
                grid: { color: '#b0b0b0', lineWidth: 1, tickColor: '#000', tickLength: 5 },
                border: { color: '#000' },
                ticks: {
                    color: '#000',
                    padding: 6,
                    font: { family: fontFamily, size: 13.89 },
                    callback: v => String(v)
                },
                title: {
                    display: true,
                    text: 'ADC Counts',
                    color: '#000',
                    padding: { top: 13, bottom: 4 },
                    font: { family: fontFamily, size: 13.89 }
                }
            }
        }
    },
    plugins: [decorPlugin]
});
</script>
</body>
</html>
